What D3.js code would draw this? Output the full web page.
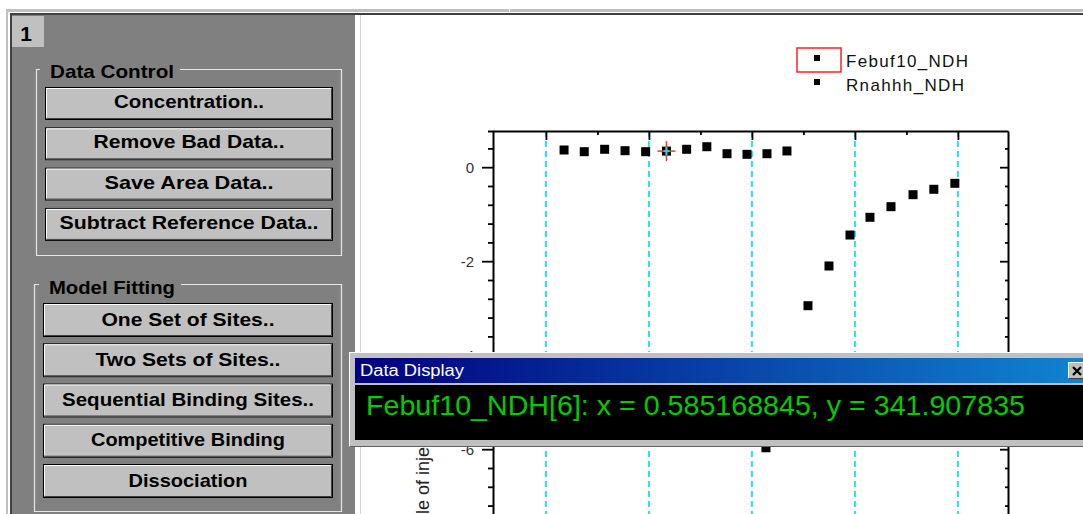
<!DOCTYPE html>
<html><head><meta charset="utf-8">
<script src="https://cdn.jsdelivr.net/npm/d3@7"></script>
<style>
html,body{margin:0;padding:0;background:#fff;overflow:hidden}
svg{display:block}
</style></head><body>
<svg id="c" width="1083" height="514"></svg>
<script>
// ---------------- data ----------------
const seriesNames = ["Febuf10_NDH", "Rnahhh_NDH"];
const febufX = [0.088, 0.186, 0.285, 0.384, 0.484, 0.585, 0.683, 0.781, 0.879, 0.976, 1.073, 1.170];
const febufY = [0.366, 0.330, 0.381, 0.351, 0.330, 0.342, 0.381, 0.436, 0.287, 0.274, 0.287, 0.345];
const rnaX = [1.068, 1.272, 1.374, 1.476, 1.573, 1.675, 1.782, 1.883, 1.985];
const rnaY = [-5.97, -2.947, -2.102, -1.443, -1.066, -0.840, -0.585, -0.470, -0.343];
const xMajorTicks = [0, 0.5, 1, 1.5, 2];
const xMinorTicks = [0.25, 0.75, 1.25, 1.75];
const yMajorTicks = [0, -2, -4, -6];
const yAxisTitle = "kcal/mole of injectant";
const selectedIndex = 5;
const displayText = "Febuf10_NDH[6]: x = 0.585168845, y = 341.907835";
const dataControlButtons = ["Concentration..", "Remove Bad Data..", "Save Area Data..", "Subtract Reference Data.."];
const dataControlLens = [150, 191, 169, 259];
const modelButtons = ["One Set of Sites..", "Two Sets of Sites..", "Sequential Binding Sites..", "Competitive Binding", "Dissociation"];
const modelLens = [173, 185, 252, 194, 119];

const FONT = "'Liberation Sans', Arial, sans-serif";
const svg = d3.select("#c");

// ---------------- window chrome ----------------
svg.append("rect").attr("x",0).attr("y",0).attr("width",1083).attr("height",514).attr("fill","#fff");
svg.append("rect").attr("x",6).attr("y",9).attr("width",1077).attr("height",3).attr("fill","#c0c0c0");
svg.append("rect").attr("x",509).attr("y",9).attr("width",1).attr("height",3).attr("fill","#fff");
svg.append("rect").attr("x",10).attr("y",13).attr("width",1073).attr("height",2).attr("fill","#404040");
svg.append("rect").attr("x",6).attr("y",12).attr("width",2).attr("height",502).attr("fill","#c0c0c0");
svg.append("rect").attr("x",10).attr("y",13).attr("width",2).attr("height",501).attr("fill","#404040");
svg.append("rect").attr("x",12).attr("y",15).attr("width",343).attr("height",499).attr("fill","#808080");
svg.append("line").attr("x1",360.5).attr("x2",360.5).attr("y1",15).attr("y2",514).attr("stroke","#d4d4d4");

// "1" tab
svg.append("rect").attr("x",12).attr("y",16).attr("width",32).attr("height",31).attr("fill","#c0c0c0");
svg.append("text").attr("x",26).attr("y",41).attr("text-anchor","middle")
  .attr("font-family",FONT).attr("font-weight","bold").attr("font-size",21).attr("fill","#000").text("1");

// group boxes
function groupBox(x0, y0, x1, y1, title, tx, tlen, tBase) {
  const p = d3.path();
  p.moveTo(tx - 10, y0 + 0.5); p.lineTo(x0 + 0.5, y0 + 0.5); p.lineTo(x0 + 0.5, y1 + 0.5);
  p.lineTo(x1 + 0.5, y1 + 0.5); p.lineTo(x1 + 0.5, y0 + 0.5); p.lineTo(tx + tlen + 6, y0 + 0.5);
  svg.append("path").attr("d", p.toString()).attr("fill","none").attr("stroke","#e6e6e6").attr("stroke-width",1.2);
  svg.append("text").attr("x",tx).attr("y",tBase).attr("font-family",FONT).attr("font-weight","bold")
    .attr("font-size",19).attr("textLength",tlen).attr("lengthAdjust","spacingAndGlyphs").attr("fill","#000").text(title);
}
groupBox(36, 69, 341, 255, "Data Control", 50, 124, 78);
groupBox(34, 284, 341, 511, "Model Fitting", 49, 126, 294);

function button(x0, y0, w, h, label, len, dy) {
  const g = svg.append("g");
  g.append("rect").attr("x",x0).attr("y",y0).attr("width",w).attr("height",h).attr("fill","#c0c0c0");
  g.append("rect").attr("x",x0+0.5).attr("y",y0+0.5).attr("width",w-1).attr("height",h-1)
    .attr("fill","none").attr("stroke","#000");
  g.append("path").attr("d",`M${x0+1.5},${y0+h-2.5}V${y0+1.5}H${x0+w-2.5}`).attr("fill","none").attr("stroke","#fff");
  g.append("path").attr("d",`M${x0+1.5},${y0+h-1.5}H${x0+w-1.5}V${y0+1.5}`).attr("fill","none").attr("stroke","#404040");
  g.append("text").attr("x",x0+w/2).attr("y",y0+dy).attr("text-anchor","middle")
    .attr("font-family",FONT).attr("font-weight","bold").attr("font-size",19)
    .attr("textLength",len).attr("lengthAdjust","spacingAndGlyphs").attr("fill","#000").text(label);
}
dataControlButtons.forEach((b,i)=>button(45, 87 + i*40.3, 288, 33, b, dataControlLens[i], 21));
modelButtons.forEach((b,i)=>button(43, 303 + i*40.25, 290, 34, b, modelLens[i], 22.5));

// ---------------- plot ----------------
const x = d3.scaleLinear().domain([-0.257, 2.243]).range([493, 1008]);
const y = d3.scaleLinear().domain([0.77, -8.5]).range([131, 131 + 9.27*47]);
const yBottom = y.range()[1];

const yMinor = [];
for (let k = 1; k >= -21; k--) { if (k % 5 !== 0) yMinor.push(+(k*0.4).toFixed(2)); }
const yMajorAll = yMajorTicks.concat([-8]);

// grid lines
svg.append("g").selectAll("line").data(xMajorTicks).join("line")
  .attr("x1",d=>x(d)).attr("x2",d=>x(d)).attr("y1",131).attr("y2",yBottom)
  .attr("stroke","#22e4f2").attr("stroke-width",2).attr("stroke-dasharray","6,4");

function styleAxis(g) {
  g.selectAll("path.domain").attr("stroke","#000").attr("stroke-width",2);
  g.selectAll(".tick line").attr("stroke","#000").attr("stroke-width",1.8);
  g.selectAll(".tick text").attr("font-family",FONT).attr("font-size",15).attr("fill","#333");
}
// top axis
svg.append("g").attr("transform","translate(0,131)")
  .call(d3.axisTop(x).tickValues(xMajorTicks).tickSizeInner(-9).tickSizeOuter(0).tickFormat(""))
  .call(styleAxis);
svg.append("g").attr("transform","translate(0,131)")
  .call(d3.axisTop(x).tickValues(xMinorTicks).tickSizeInner(-4).tickSizeOuter(0).tickFormat(""))
  .call(styleAxis).call(g=>g.select("path.domain").remove());
// left axis
svg.append("g").attr("transform","translate(493,0)")
  .call(d3.axisLeft(y).tickValues(yMajorTicks).tickSizeInner(11).tickSizeOuter(5).tickPadding(8).tickFormat(d=>String(d)))
  .call(styleAxis);
svg.append("g").attr("transform","translate(493,0)")
  .call(d3.axisLeft(y).tickValues(yMinor.concat([-8])).tickSizeInner(5).tickSizeOuter(0).tickFormat(""))
  .call(styleAxis).call(g=>g.select("path.domain").remove());
// right axis
svg.append("g").attr("transform","translate(1008,0)")
  .call(d3.axisRight(y).tickValues(yMajorAll).tickSizeInner(-8).tickSizeOuter(0).tickFormat(""))
  .call(styleAxis);
svg.append("g").attr("transform","translate(1008,0)")
  .call(d3.axisRight(y).tickValues(yMinor).tickSizeInner(-3).tickSizeOuter(0).tickFormat(""))
  .call(styleAxis).call(g=>g.select("path.domain").remove());

// y axis title
svg.append("text").attr("transform","translate(429,492) rotate(-90)").attr("text-anchor","middle")
  .attr("font-family",FONT).attr("font-size",18).attr("fill","#222").text(yAxisTitle);

// points
const M = 9;
const febuf = febufX.map((v,i)=>({x:v, y:febufY[i]}));
const rna = rnaX.map((v,i)=>({x:v, y:rnaY[i]}));
svg.append("g").selectAll("rect").data(febuf).join("rect")
  .attr("x",d=>x(d.x)-M/2).attr("y",d=>y(d.y)-M/2).attr("width",M).attr("height",M).attr("fill","#000");
svg.append("g").selectAll("rect").data(rna).join("rect")
  .attr("x",d=>x(d.x)-M/2).attr("y",d=>y(d.y)-M/2).attr("width",M).attr("height",M).attr("fill","#000");

// crosshair on selected point
const sel = febuf[selectedIndex];
const cx = x(sel.x), cy = y(sel.y);
const ch = svg.append("g");
ch.append("line").attr("x1",cx-9).attr("x2",cx+9).attr("y1",cy).attr("y2",cy).attr("stroke","#ff3030").attr("stroke-width",1.5);
ch.append("line").attr("x1",cx).attr("x2",cx).attr("y1",cy-10).attr("y2",cy+10).attr("stroke","#ff3030").attr("stroke-width",1.5);
ch.append("line").attr("x1",cx-3).attr("x2",cx+3).attr("y1",cy).attr("y2",cy).attr("stroke","#20d8e0").attr("stroke-width",2);
ch.append("line").attr("x1",cx).attr("x2",cx).attr("y1",cy-4).attr("y2",cy+4).attr("stroke","#20d8e0").attr("stroke-width",2);

// legend
svg.append("rect").attr("x",797).attr("y",48).attr("width",44).attr("height",24)
  .attr("fill","none").attr("stroke","#ff2020").attr("stroke-width",1.5);
const lg = svg.append("g").selectAll("g").data(seriesNames).join("g")
  .attr("transform",(d,i)=>`translate(0,${58 + i*24})`);
lg.append("rect").attr("x",814).attr("y",-3).attr("width",6).attr("height",6).attr("fill","#000");
lg.append("text").attr("x",846).attr("y",8.5).attr("font-family",FONT).attr("font-size",17)
  .attr("textLength",(d,i)=>i===0?122:118).attr("lengthAdjust","spacing").attr("fill","#111").text(d=>d);

// ---------------- Data Display window ----------------
const defs = svg.append("defs");
const grad = defs.append("linearGradient").attr("id","tb").attr("gradientUnits","userSpaceOnUse")
  .attr("x1",355).attr("x2",1083).attr("y1",0).attr("y2",0);
grad.append("stop").attr("offset","0").attr("stop-color","#000080");
grad.append("stop").attr("offset","1").attr("stop-color","#1084d0");

const dd = svg.append("g");
dd.append("rect").attr("x",349).attr("y",352).attr("width",740).attr("height",95).attr("fill","#c0c0c0");
dd.append("path").attr("d","M349.5,447V352.5H1089").attr("fill","none").attr("stroke","#fff");
dd.append("path").attr("d","M349.5,446.5H1089").attr("fill","none").attr("stroke","#606060");
dd.append("rect").attr("x",355).attr("y",358).attr("width",734).attr("height",25).attr("fill","url(#tb)");
dd.append("text").attr("x",360).attr("y",376).attr("font-family",FONT).attr("font-size",16)
  .attr("textLength",104).attr("lengthAdjust","spacingAndGlyphs").attr("fill","#fff").text("Data Display");
dd.append("rect").attr("x",355).attr("y",385).attr("width",734).attr("height",55).attr("fill","#000");
dd.append("text").attr("x",366).attr("y",415).attr("font-family",FONT).attr("font-size",28.5)
  .attr("textLength",659).attr("lengthAdjust","spacingAndGlyphs").attr("fill","#00cc00").text(displayText);
// close button
dd.append("rect").attr("x",1068).attr("y",362).attr("width",20).attr("height",17).attr("fill","#c0c0c0");
dd.append("path").attr("d","M1068.5,378.5V362.5H1088").attr("fill","none").attr("stroke","#fff");
dd.append("path").attr("d","M1068.5,378.5H1088").attr("fill","none").attr("stroke","#404040");
dd.append("path").attr("d","M1073,367L1081,375M1081,367L1073,375").attr("stroke","#000").attr("stroke-width",2.2);
</script>
</body></html>
